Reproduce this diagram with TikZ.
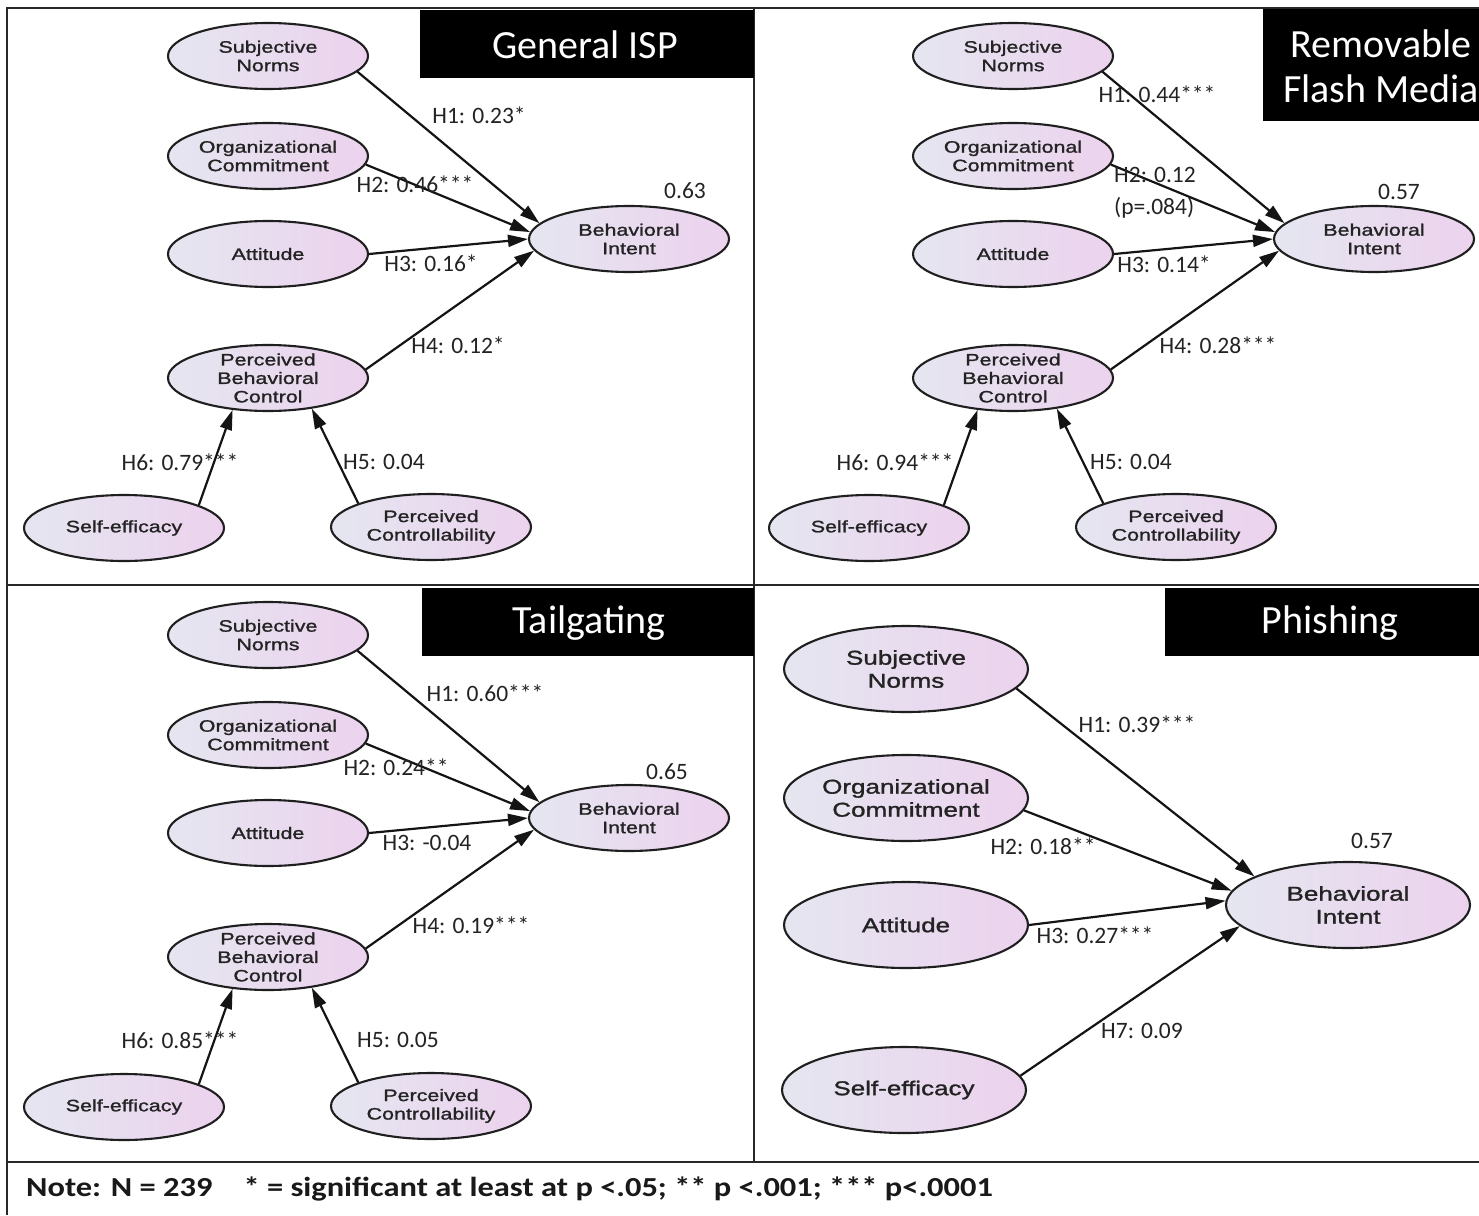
\documentclass[tikz,border=0pt]{standalone}
\usepackage{fontspec}
\usetikzlibrary{shapes.geometric,arrows.meta}

\newfontfamily\constructfont[FakeStretch=1.3,FakeBold=1.3]{Liberation Sans}
\newfontfamily\pathfont{Carlito}
\newfontfamily\notefont[FakeStretch=1.18]{Carlito}

\definecolor{ellleft}{RGB}{229,230,240}
\definecolor{ellright}{RGB}{236,210,238}
\definecolor{framegray}{RGB}{40,40,40}
\definecolor{inkgray}{RGB}{35,35,35}

\tikzset{
  construct/.style={ellipse, draw=black!88, line width=2.1pt,
    minimum width=200pt, minimum height=66pt, inner sep=0pt,
    left color=ellleft, right color=ellright, align=center,
    font=\constructfont\fontsize{16.5}{18.5}\selectfont, text=inkgray},
  bigconstruct/.style={construct, minimum width=244pt, minimum height=86pt,
    font=\constructfont\fontsize{20}{23}\selectfont},
  effect/.style={line width=2.2pt, draw=black!92,
    -{Triangle[length=20pt,width=12pt]}},
  coef/.style={font=\pathfont\fontsize{23.5}{32}\selectfont, text=inkgray,
    inner sep=0pt},
  titletext/.style={text=white, font=\pathfont\fontsize{40}{45}\selectfont,
    align=center, inner sep=0pt},
  frame/.style={draw=framegray, line width=2pt},
}

% One six-construct TPB model; #1 = name prefix, #2 = panel offset
\newcommand{\tpbmodel}[2]{%
\begin{scope}[shift={#2}]
  \node[construct] (#1sn)  at (268,56)  {Subjective\\Norms};
  \node[construct] (#1oc)  at (268,156) {Organizational\\Commitment};
  \node[construct] (#1att) at (268,254) {Attitude};
  \node[construct] (#1bi)  at (629,239) {Behavioral\\Intent};
  \node[construct, inner ysep=-8pt] (#1pbc) at (268,378) {Perceived\\Behavioral\\Control};
  \node[construct] (#1se)  at (124,528) {Self-efficacy};
  \node[construct] (#1pc)  at (431,527) {Perceived\\Controllability};
  \draw[effect] (#1sn.-10) -- (#1bi.170);
  \draw[effect] (#1oc.-5)  -- (#1bi.176);
  \draw[effect] (#1att.0)  -- (#1bi.180);
  \draw[effect] (#1pbc.5)  -- (#1bi.-173);
  \draw[effect] (#1se.17)  -- (#1pbc.-138);
  \draw[effect] (#1pc.162) -- (#1pbc.-35);
\end{scope}}

\begin{document}
\begin{tikzpicture}[x=1pt,y=-1pt]
  \useasboundingbox (0,0) rectangle (1479,1215);
  \fill[white] (0,0) rectangle (1479,1215);

  % panel frames
  \draw[frame] (7,1215) -- (7,8) -- (1479,8);
  \draw[frame] (754,8) -- (754,1162);
  \draw[frame] (7,585) -- (1479,585);
  \draw[frame] (7,1162) -- (1479,1162);

  % panel titles
  \fill[black] (420,10) rectangle (754,78);
  \node[titletext] (title1) at (585,45) {General ISP};
  \fill[black] (1263,9) rectangle (1479,121);
  \node[titletext] (title2) at (1381,66) {Removable\\Flash Media};
  \fill[black] (422,588) rectangle (754,656);
  \node[titletext] (title3) at (589,623) {Tailgating};
  \fill[black] (1165,588) rectangle (1479,656);
  \node[titletext] (title4) at (1330,623) {Phishing};

  % General ISP
  \tpbmodel{a}{(0,0)}
  \node[coef] (a1) at (479,115) {H1: 0.23*};
  \node[coef] (a2) at (415,184) {H2: 0.46***};
  \node[coef] (a3) at (431,263) {H3: 0.16*};
  \node[coef] (a4) at (458,345) {H4: 0.12*};
  \node[coef] (a6) at (180,462) {H6: 0.79***};
  \node[coef] (a5) at (384,462) {H5: 0.04};
  \node[coef] (ar) at (685,191) {0.63};

  % Removable flash media
  \tpbmodel{b}{(745,0)}
  \node[coef] (b1) at (1157,94) {H1: 0.44***};
  \node[coef, anchor=west, align=left] (b2) at (1114,193) {H2: 0.12\\(p=.084)};
  \node[coef] (b3) at (1164,264) {H3: 0.14*};
  \node[coef] (b4) at (1218,345) {H4: 0.28***};
  \node[coef] (b6) at (895,462) {H6: 0.94***};
  \node[coef] (b5) at (1131,462) {H5: 0.04};
  \node[coef] (br) at (1399,192) {0.57};

  % Tailgating
  \tpbmodel{c}{(0,579)}
  \node[coef] (c1) at (485,693) {H1: 0.60***};
  \node[coef] (c2) at (396,767) {H2: 0.24**};
  \node[coef] (c3) at (427,843) {H3: -0.04};
  \node[coef] (c4) at (471,925) {H4: 0.19***};
  \node[coef] (c6) at (180,1040) {H6: 0.85***};
  \node[coef] (c5) at (398,1040) {H5: 0.05};
  \node[coef] (cr) at (667,772) {0.65};

  % Phishing
  \node[bigconstruct] (dsn)  at (906,669)  {Subjective\\Norms};
  \node[bigconstruct] (doc)  at (906,798)  {Organizational\\Commitment};
  \node[bigconstruct] (datt) at (906,925)  {Attitude};
  \node[bigconstruct] (dse)  at (904,1090) {Self-efficacy};
  \node[bigconstruct] (dbi)  at (1348,905) {Behavioral\\Intent};
  \draw[effect] (dsn.-10) -- (dbi.163);
  \draw[effect] (doc.-6)  -- (dbi.173);
  \draw[effect] (datt.0)  -- (dbi.178);
  \draw[effect] (dse.7)   -- (dbi.-169);
  \node[coef] (d1) at (1137,724) {H1: 0.39***};
  \node[coef] (d2) at (1043,846) {H2: 0.18**};
  \node[coef] (d3) at (1095,935) {H3: 0.27***};
  \node[coef] (d7) at (1142,1031) {H7: 0.09};
  \node[coef] (dr) at (1372,841) {0.57};

  % footnote
  \node[anchor=west, inner sep=0pt, text=black!90,
        font=\notefont\bfseries\fontsize{27.5}{30}\selectfont] (note) at (26,1189)
    {Note: N = 239\hspace{31pt}* = significant at least at p <.05; ** p <.001; *** p<.0001};
\end{tikzpicture}
\end{document}
